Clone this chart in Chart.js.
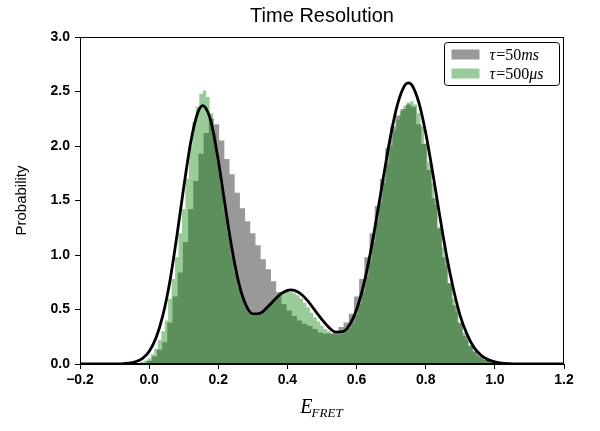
<!DOCTYPE html>
<html>
<head>
<meta charset="utf-8">
<script src="https://cdn.jsdelivr.net/npm/chart.js@4/dist/chart.umd.min.js"></script>
<style>
html,body{margin:0;padding:0;background:#fff;}
#c{display:block;}
</style>
</head>
<body>
<canvas id="c" width="600" height="431"></canvas>
<script>
// ---- data ----
const chartTitle = 'Time Resolution';
const yAxisTitle = 'Probability';
const xTicks = [-0.2, 0.0, 0.2, 0.4, 0.6, 0.8, 1.0, 1.2];
const yTicks = [0.0, 0.5, 1.0, 1.5, 2.0, 2.5, 3.0];

// tau = 50 ms histogram (bin centres, probability density)
const grayE = [-0.03,-0.015,0,0.015,0.03,0.045,0.06,0.075,0.09,0.105,0.12,0.135,0.15,0.165,0.18,0.195,0.21,0.225,0.24,0.255,0.27,0.285,0.30,0.315,0.33,0.345,0.36,0.375,0.39,0.405,0.42,0.435,0.45,0.465,0.48,0.495,0.51,0.525,0.54,0.555,0.57,0.585,0.60,0.615,0.63,0.645,0.66,0.675,0.69,0.705,0.72,0.735,0.75,0.765,0.78,0.795,0.81,0.825,0.84,0.855,0.87,0.885,0.90,0.915,0.93,0.945,0.96,0.975,0.99,1.005,1.02,1.035];
const grayP = [0.005,0.01,0.03,0.07,0.13,0.20,0.38,0.62,0.84,1.12,1.42,1.68,1.93,2.12,2.25,2.20,2.05,1.88,1.74,1.57,1.43,1.31,1.20,1.09,0.96,0.87,0.76,0.66,0.55,0.49,0.44,0.40,0.37,0.35,0.32,0.29,0.28,0.28,0.30,0.34,0.38,0.46,0.62,0.78,0.98,1.20,1.45,1.70,1.98,2.18,2.28,2.34,2.38,2.36,2.20,2.02,1.78,1.52,1.24,0.98,0.74,0.54,0.38,0.26,0.17,0.11,0.07,0.04,0.02,0.01,0.005,0];

// tau = 500 us histogram
const greenE = [-0.03,-0.02,-0.01,0.00,0.01,0.02,0.03,0.04,0.05,0.06,0.07,0.08,0.09,0.10,0.11,0.12,0.13,0.14,0.15,0.16,0.17,0.18,0.19,0.20,0.21,0.22,0.23,0.24,0.25,0.26,0.27,0.28,0.29,0.30,0.31,0.32,0.33,0.34,0.35,0.36,0.37,0.38,0.39,0.40,0.41,0.42,0.43,0.44,0.45,0.46,0.47,0.48,0.49,0.50,0.51,0.52,0.53,0.54,0.55,0.56,0.57,0.58,0.59,0.60,0.61,0.62,0.63,0.64,0.65,0.66,0.67,0.68,0.69,0.70,0.71,0.72,0.73,0.74,0.75,0.76,0.77,0.78,0.79,0.80,0.81,0.82,0.83,0.84,0.85,0.86,0.87,0.88,0.89,0.90,0.91,0.92,0.93,0.94,0.95,0.96,0.97,0.98,0.99,1.00,1.01,1.02,1.03];
const greenP = [0.01,0.02,0.03,0.05,0.09,0.14,0.22,0.30,0.40,0.60,0.78,0.98,1.20,1.42,1.70,2.00,2.22,2.36,2.48,2.51,2.45,2.30,2.12,1.85,1.62,1.40,1.20,1.00,0.84,0.70,0.60,0.52,0.47,0.44,0.44,0.45,0.48,0.51,0.55,0.58,0.61,0.63,0.65,0.66,0.66,0.65,0.63,0.60,0.56,0.52,0.47,0.43,0.39,0.35,0.32,0.30,0.28,0.27,0.27,0.28,0.30,0.33,0.38,0.45,0.55,0.66,0.80,0.95,1.12,1.30,1.48,1.66,1.84,2.00,2.14,2.24,2.32,2.37,2.40,2.41,2.38,2.30,2.18,2.02,1.85,1.66,1.46,1.26,1.07,0.90,0.74,0.60,0.48,0.37,0.29,0.22,0.16,0.12,0.08,0.06,0.04,0.03,0.02,0.01,0.01,0.005,0];

// fitted curve (black line)
const fitE = [-0.20,-0.12,-0.10,-0.08,-0.06,-0.04,-0.02,0.00,0.02,0.04,0.06,0.08,0.10,0.12,0.14,0.155,0.17,0.18,0.20,0.22,0.24,0.26,0.28,0.30,0.32,0.34,0.36,0.38,0.40,0.41,0.42,0.44,0.46,0.48,0.50,0.52,0.54,0.56,0.58,0.60,0.62,0.64,0.66,0.68,0.70,0.72,0.74,0.75,0.76,0.78,0.80,0.82,0.84,0.86,0.88,0.90,0.92,0.94,0.96,0.98,1.00,1.02,1.04,1.06,1.08,1.20];
const fitP = [0,0,0.001,0.002,0.007,0.02,0.05,0.115,0.24,0.45,0.76,1.17,1.62,2.03,2.30,2.37,2.31,2.21,1.87,1.45,1.05,0.735,0.54,0.46,0.465,0.515,0.58,0.64,0.675,0.68,0.675,0.64,0.575,0.49,0.408,0.336,0.293,0.297,0.36,0.50,0.72,1.02,1.38,1.76,2.12,2.40,2.56,2.58,2.56,2.40,2.12,1.76,1.37,1.00,0.69,0.44,0.27,0.15,0.08,0.04,0.02,0.008,0.003,0.001,0,0];

const legendItems = [
  {parts: [['\u03C4','i'], ['=50','r'], ['ms','i']], color: 'rgba(128,128,128,0.8)'},
  {parts: [['\u03C4','i'], ['=500','r'], ['\u03BCs','i']], color: 'rgba(0,128,0,0.4)'}
];

// ---- chart ----
const pts = (xs, ys) => xs.map((x, i) => ({x: x, y: ys[i]}));
const fmt = v => {
  if (Math.abs(v) < 1e-9) v = 0;
  const s = v.toFixed(1);
  return s.replace('-', '\u2212');
};

const extras = {
  id: 'extras',
  afterLayout(chart) {
    const t = chart.titleBlock;
    const a = chart.chartArea;
    if (t) { t.left = a.left; t.right = a.right; t.width = a.right - a.left; }
  },
  afterDraw(chart) {
    const ctx = chart.ctx;
    const a = chart.chartArea;
    ctx.save();
    // frame
    ctx.strokeStyle = '#000';
    ctx.lineWidth = 1;
    const L = Math.round(a.left) + 0.5, T = Math.round(a.top) + 0.5;
    const R = Math.round(a.right) - 0.5, B = Math.round(a.bottom) - 0.5;
    ctx.strokeRect(L, T, R - L, B - T);

    // x axis title E_FRET
    const cx = (a.left + a.right) / 2;
    ctx.fillStyle = '#000';
    ctx.textBaseline = 'alphabetic';
    ctx.font = 'italic 20px "Liberation Serif"';
    const wE = ctx.measureText('E').width;
    ctx.font = 'italic 13px "Liberation Serif"';
    const wS = ctx.measureText('FRET').width;
    const x0 = cx - (wE + wS) / 2;
    ctx.font = 'italic 20px "Liberation Serif"';
    ctx.fillText('E', x0, 413);
    ctx.font = 'italic 13px "Liberation Serif"';
    ctx.fillText('FRET', x0 + wE - 1, 417);

    // legend box
    const bw = 115, bh = 43;
    const bx = Math.round(a.right) - 5 - bw + 0.5, by = Math.round(a.top) + 5 + 0.5;
    ctx.beginPath();
    const r = 3;
    ctx.moveTo(bx + r, by);
    ctx.lineTo(bx + bw - r, by); ctx.arcTo(bx + bw, by, bx + bw, by + r, r);
    ctx.lineTo(bx + bw, by + bh - r); ctx.arcTo(bx + bw, by + bh, bx + bw - r, by + bh, r);
    ctx.lineTo(bx + r, by + bh); ctx.arcTo(bx, by + bh, bx, by + bh - r, r);
    ctx.lineTo(bx, by + r); ctx.arcTo(bx, by, bx + r, by, r);
    ctx.closePath();
    ctx.fillStyle = '#fff';
    ctx.fill();
    ctx.strokeStyle = '#000';
    ctx.lineWidth = 1;
    ctx.stroke();

    legendItems.forEach((it, k) => {
      const py = by + 7 + k * 19;
      ctx.fillStyle = it.color;
      ctx.fillRect(bx + 7, py, 28, 10);
      let tx = bx + 45;
      const base = py + 10;
      ctx.fillStyle = '#000';
      it.parts.forEach(p => {
        ctx.font = (p[1] === 'i' ? 'italic ' : '') + '16px "Liberation Serif"';
        ctx.fillText(p[0], tx, base);
        tx += ctx.measureText(p[0]).width + (p[0] === '\u03C4' ? 1 : 0);
      });
    });
    ctx.restore();
  }
};

const tickFont = {family: '"Liberation Sans", Arial, sans-serif', size: 14, weight: 'bold'};

new Chart(document.getElementById('c'), {
  type: 'line',
  data: {
    datasets: [
      {
        label: 'fit',
        data: pts(fitE, fitP),
        borderColor: '#000',
        borderWidth: 2.8,
        pointRadius: 0,
        fill: false,
        cubicInterpolationMode: 'monotone',
        order: 0
      },
      {
        label: '\u03C4=500\u03BCs',
        data: pts(greenE, greenP),
        borderColor: 'rgba(0,0,0,0)',
        borderWidth: 0,
        backgroundColor: 'rgba(0,128,0,0.4)',
        fill: 'origin',
        stepped: 'middle',
        pointRadius: 0,
        order: 1
      },
      {
        label: '\u03C4=50ms',
        data: pts(grayE, grayP),
        borderColor: 'rgba(0,0,0,0)',
        borderWidth: 0,
        backgroundColor: 'rgba(128,128,128,0.8)',
        fill: 'origin',
        stepped: 'middle',
        pointRadius: 0,
        order: 2
      }
    ]
  },
  options: {
    responsive: false,
    animation: false,
    devicePixelRatio: 1,
    events: [],
    layout: {padding: {left: 0, right: 36, top: 0, bottom: 0}},
    plugins: {
      legend: {display: false},
      tooltip: {enabled: false},
      title: {
        display: true,
        text: chartTitle,
        color: '#000',
        font: {family: '"Liberation Sans", Arial, sans-serif', size: 20, weight: 'normal'},
        padding: {top: 4, bottom: 9}
      }
    },
    scales: {
      x: {
        type: 'linear',
        min: -0.2,
        max: 1.2,
        afterBuildTicks: s => { s.ticks = xTicks.map(v => ({value: v})); },
        afterFit: s => { s.height = 67; },
        ticks: {color: '#000', font: tickFont, padding: 3, callback: v => fmt(v), maxRotation: 0, autoSkip: false},
        grid: {display: true, drawOnChartArea: false, drawTicks: true, tickLength: 5, color: '#000', tickColor: '#000'},
        border: {display: true, color: '#000', width: 1}
      },
      y: {
        type: 'linear',
        min: 0,
        max: 3.0,
        afterBuildTicks: s => { s.ticks = yTicks.map(v => ({value: v})); },
        afterFit: s => { s.width = 80; },
        ticks: {color: '#000', font: tickFont, padding: 5, callback: v => fmt(v), autoSkip: false},
        grid: {display: true, drawOnChartArea: false, drawTicks: true, tickLength: 5, color: '#000', tickColor: '#000'},
        border: {display: true, color: '#000', width: 1},
        title: {
          display: true,
          text: yAxisTitle,
          color: '#000',
          font: {family: '"Liberation Sans", Arial, sans-serif', size: 15, weight: 'normal'},
          padding: {top: 13, bottom: 0}
        }
      }
    }
  },
  plugins: [extras]
});
</script>
</body>
</html>
